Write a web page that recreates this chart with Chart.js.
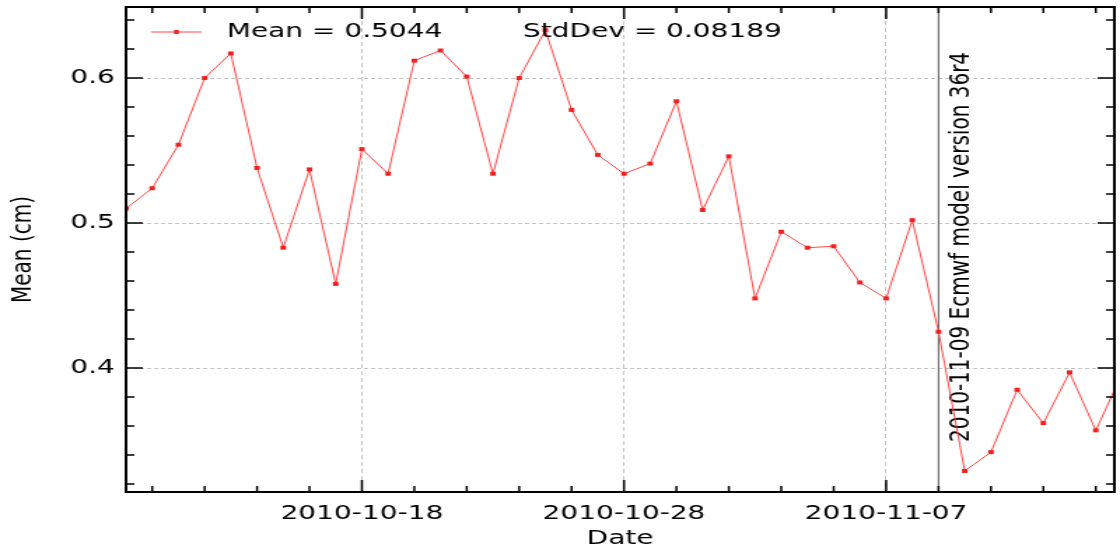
<!DOCTYPE html>
<html lang="en">
<head>
<meta charset="UTF-8">
<title>Mean (cm) by date</title>
<script src="https://cdn.jsdelivr.net/npm/chart.js@4.4.1/dist/chart.umd.min.js"></script>
<style>
  html, body { margin: 0; padding: 0; background: #fff; overflow: hidden; }
  /* drawn at 800 wide, then stretched out to 1120 like the original picture */
  #chart { display: block; width: 1120px; height: 554px; }
</style>
</head>
<body>
<canvas id="chart" width="800" height="554" style="width:1120px;height:554px"></canvas>
<script>
const dates = [
  '2010-10-09', '2010-10-10', '2010-10-11', '2010-10-12', '2010-10-13', '2010-10-14', '2010-10-15',
  '2010-10-16', '2010-10-17', '2010-10-18', '2010-10-19', '2010-10-20', '2010-10-21', '2010-10-22',
  '2010-10-23', '2010-10-24', '2010-10-25', '2010-10-26', '2010-10-27', '2010-10-28', '2010-10-29',
  '2010-10-30', '2010-10-31', '2010-11-01', '2010-11-02', '2010-11-03', '2010-11-04', '2010-11-05',
  '2010-11-06', '2010-11-07', '2010-11-08', '2010-11-09', '2010-11-10', '2010-11-11', '2010-11-12',
  '2010-11-13', '2010-11-14', '2010-11-15', '2010-11-16'
];
const means = [
  0.510, 0.524, 0.554, 0.600, 0.617, 0.538, 0.483,
  0.537, 0.458, 0.551, 0.534, 0.612, 0.619, 0.601,
  0.534, 0.600, 0.633, 0.578, 0.547, 0.534, 0.541,
  0.584, 0.509, 0.546, 0.448, 0.494, 0.483, 0.484,
  0.459, 0.448, 0.502, 0.425, 0.329, 0.342, 0.385,
  0.362, 0.397, 0.357, 0.396
];
const legendTexts = ['Mean = 0.5044', 'StdDev = 0.08189'];
const eventDate = '2010-11-09';
const eventText = '2010-11-09 Ecmwf model version 36r4';
const yTickValues = [0.32, 0.34, 0.36, 0.38, 0.40, 0.42, 0.44, 0.46, 0.48, 0.50,
                     0.52, 0.54, 0.56, 0.58, 0.60, 0.62, 0.64];

// days since 1970-01-01, so 10-18 / 10-28 / 11-07 land on multiples of 10
function dayNum(s) {
  return Date.parse(s + 'T00:00:00Z') / 86400000;
}
function dayLabel(v) {
  return new Date(v * 86400000).toISOString().slice(0, 10);
}

const X_MIN = dayNum('2010-10-09');
const X_MAX = dayNum('2010-11-15') + 0.71;
const FONT = 'DejaVu Sans';
const LINE_RED = 'rgb(255,70,70)';
const MARK_RED = 'rgb(238,32,32)';

const points = dates.map((d, i) => ({ x: dayNum(d), y: means[i] }));

function isMajorX(v) { return Math.round(v) % 10 === 0; }
function isMajorY(v) { return Math.abs(v * 10 - Math.round(v * 10)) < 1e-6; }

// frame on all four sides with inward ticks
const framePlugin = {
  id: 'frame',
  afterDatasetsDraw(chart) {
    const { ctx, chartArea: a, scales: { x, y } } = chart;
    ctx.save();
    ctx.strokeStyle = '#000';
    ctx.lineWidth = 1.5;
    x.ticks.forEach(t => {
      const px = x.getPixelForValue(t.value);
      const len = isMajorX(t.value) ? 12 : 6;
      ctx.beginPath();
      ctx.moveTo(px, a.bottom); ctx.lineTo(px, a.bottom - len);
      ctx.moveTo(px, a.top); ctx.lineTo(px, a.top + len);
      ctx.stroke();
    });
    y.ticks.forEach(t => {
      const py = y.getPixelForValue(t.value);
      const len = isMajorY(t.value) ? 12 : 6;
      ctx.beginPath();
      ctx.moveTo(a.left, py); ctx.lineTo(a.left + len, py);
      ctx.moveTo(a.right, py); ctx.lineTo(a.right - len, py);
      ctx.stroke();
    });
    ctx.lineWidth = 2;
    ctx.strokeRect(a.left, a.top, a.right - a.left, a.bottom - a.top);
    ctx.restore();
  }
};

// vertical marker line for the model change, with its rotated note
const eventPlugin = {
  id: 'event',
  beforeDatasetsDraw(chart) {
    const { ctx, chartArea: a, scales: { x } } = chart;
    const px = x.getPixelForValue(dayNum(eventDate));
    ctx.save();
    ctx.strokeStyle = '#555';
    ctx.lineWidth = 1;
    ctx.beginPath();
    ctx.moveTo(px, a.top); ctx.lineTo(px, a.bottom);
    ctx.stroke();
    ctx.translate(px + 22, a.bottom - 50);
    ctx.rotate(-Math.PI / 2);
    ctx.font = '20px "' + FONT + '"';
    ctx.fillStyle = '#000';
    ctx.textBaseline = 'alphabetic';
    ctx.textAlign = 'left';
    ctx.fillText(eventText, 0, 0);
    ctx.restore();
  }
};

// legend sits inside the plot, top left, no box
const legendPlugin = {
  id: 'insideLegend',
  afterDatasetsDraw(chart) {
    const { ctx, chartArea: a } = chart;
    const ly = a.top + 25;
    ctx.save();
    ctx.strokeStyle = LINE_RED;
    ctx.lineWidth = 1;
    ctx.beginPath();
    ctx.moveTo(a.left + 18, ly); ctx.lineTo(a.left + 54, ly);
    ctx.stroke();
    ctx.fillStyle = MARK_RED;
    ctx.fillRect(a.left + 34.3, ly - 2, 3.4, 4);
    ctx.fillStyle = '#000';
    ctx.font = '20px "' + FONT + '"';
    ctx.textBaseline = 'middle';
    ctx.fillText(legendTexts[0], a.left + 72, ly);
    ctx.fillText(legendTexts[1], a.left + 283.5, ly);
    ctx.restore();
  }
};

Chart.defaults.font.family = FONT;
Chart.defaults.font.size = 20;
Chart.defaults.color = '#000';

const chart = new Chart(document.getElementById('chart'), {
  type: 'line',
  data: {
    datasets: [{
      label: legendTexts[0],
      data: points,
      borderColor: LINE_RED,
      borderWidth: 1,
      pointStyle: 'rect',
      pointRadius: 2.8,
      pointBorderWidth: 0,
      pointBackgroundColor: MARK_RED,
      tension: 0
    }]
  },
  options: {
    responsive: false,
    animation: false,
    events: [],
    layout: { padding: { top: 7, right: 2, left: 0, bottom: 0 } },
    plugins: { legend: { display: false }, tooltip: { enabled: false } },
    scales: {
      x: {
        type: 'linear',
        min: X_MIN,
        max: X_MAX,
        afterFit(scale) {
          scale.height = 62;
          scale.paddingLeft = 0;
          scale.paddingRight = 0;
        },
        afterBuildTicks(scale) {
          const ticks = [];
          for (let v = Math.ceil(X_MIN / 2) * 2; v <= X_MAX; v += 2) ticks.push({ value: v });
          scale.ticks = ticks;
        },
        ticks: {
          autoSkip: false,
          maxRotation: 0,
          padding: 10,
          callback: v => isMajorX(v) ? dayLabel(v) : ''
        },
        grid: {
          drawTicks: false,
          lineWidth: 1,
          color: c => (c.tick && isMajorX(c.tick.value)) ? '#c4c4c4' : 'rgba(0,0,0,0)'
        },
        border: { display: false, dash: [4, 3] },
        title: { display: true, text: 'Date', padding: { top: 0, bottom: 3 } }
      },
      y: {
        min: 0.3145,
        max: 0.649,
        afterFit(scale) {
          scale.width = 90;
          scale.paddingTop = 0;
          scale.paddingBottom = 0;
        },
        afterBuildTicks(scale) {
          scale.ticks = yTickValues.map(v => ({ value: v }));
        },
        ticks: {
          autoSkip: false,
          padding: 8,
          callback: v => isMajorY(v) ? v.toFixed(1) : ''
        },
        grid: {
          drawTicks: false,
          lineWidth: 1,
          color: c => (c.tick && isMajorY(c.tick.value)) ? '#c4c4c4' : 'rgba(0,0,0,0)'
        },
        border: { display: false, dash: [3, 2] },
        title: { display: true, text: 'Mean (cm)', padding: { top: 5, bottom: 0 } }
      }
    }
  },
  plugins: [eventPlugin, legendPlugin, framePlugin]
});

const cv = document.getElementById('chart');
cv.style.width = '1120px';
cv.style.height = '554px';
</script>
</body>
</html>
